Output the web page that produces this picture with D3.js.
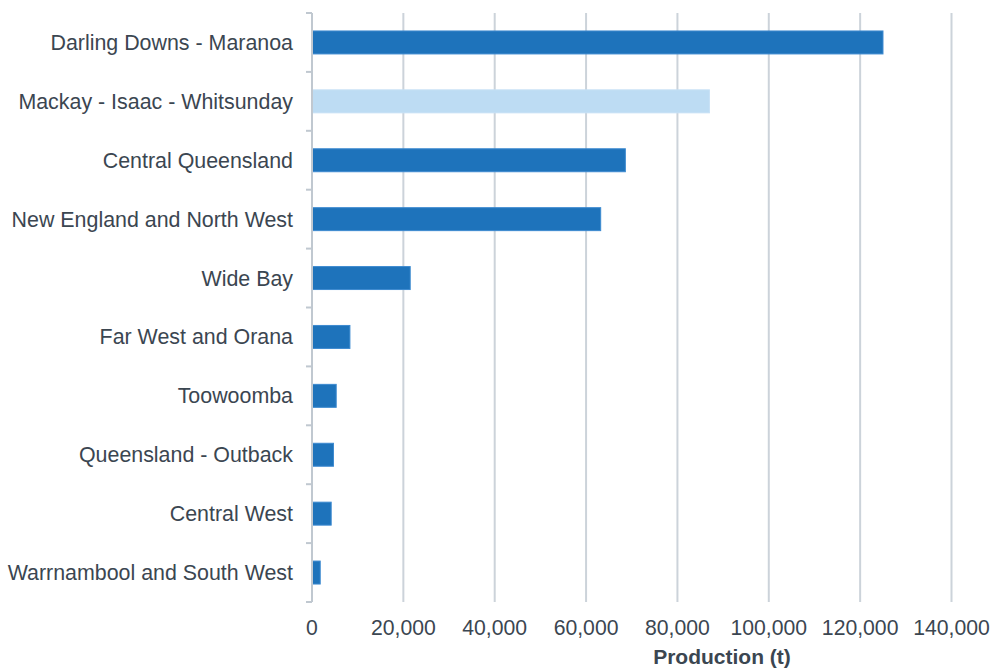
<!DOCTYPE html>
<html><head><meta charset="utf-8">
<script src="https://cdn.jsdelivr.net/npm/d3@7"></script>
<style>body{margin:0;background:#fff}svg{display:block}</style>
</head><body>
<svg id="c" width="993" height="671"></svg>
<script>
const categories = ["Darling Downs - Maranoa","Mackay - Isaac - Whitsunday","Central Queensland","New England and North West","Wide Bay","Far West and Orana","Toowoomba","Queensland - Outback","Central West","Warrnambool and South West"];
const values = [125000, 87000, 68600, 63200, 21500, 8300, 5300, 4700, 4200, 1800];
const highlight = [false, true, false, false, false, false, false, false, false, false];
const xTicks = [0,20000,40000,60000,80000,100000,120000,140000];
const xTitle = "Production (t)";

const svg = d3.select("#c");
const x = d3.scaleLinear().domain([0,140000]).range([312,951.5]);
const y = d3.scaleBand().domain(categories).range([13,602]).paddingInner(0.61).paddingOuter(0.305);
const font = "'Liberation Sans', Arial, sans-serif";
const txt = "#3b4651";

// gridlines
svg.append("g").selectAll("line").data(xTicks.slice(1)).join("line")
  .attr("x1",d=>x(d)).attr("x2",d=>x(d)).attr("y1",13).attr("y2",602)
  .attr("stroke","#ccd3da").attr("stroke-width",2);

// bars
svg.append("g").selectAll("rect").data(categories).join("rect")
  .attr("x",x(0)).attr("y",d=>y(d))
  .attr("width",(d,i)=>x(values[i])-x(0)).attr("height",y.bandwidth())
  .attr("fill",(d,i)=>highlight[i]?"#bddcf3":"#1e73bb")
  .attr("stroke",(d,i)=>highlight[i]?"#c6e0f5":"#3d8ad0").attr("stroke-width",1);

// y axis line and ticks
const ax = svg.append("g");
ax.append("line").attr("x1",312).attr("x2",312).attr("y1",13).attr("y2",602).attr("stroke","#c0c8d0").attr("stroke-width",2);
const step = y.step();
ax.selectAll("line.t").data(d3.range(categories.length+1)).join("line").attr("class","t")
  .attr("x1",306).attr("x2",312).attr("y1",i=>13+i*step).attr("y2",i=>13+i*step)
  .attr("stroke","#c0c8d0").attr("stroke-width",2);

// category labels
svg.append("g").selectAll("text").data(categories).join("text")
  .attr("x",293).attr("y",d=>y(d)+y.bandwidth()/2).attr("dy","0.35em")
  .attr("text-anchor","end").attr("font-family",font).attr("font-size",21.4).attr("fill",txt)
  .text(d=>d);

// x tick labels
svg.append("g").selectAll("text").data(xTicks).join("text")
  .attr("x",d=>x(d)).attr("y",635).attr("text-anchor","middle")
  .attr("font-family",font).attr("font-size",21.2).attr("fill",txt)
  .text(d=>d3.format(",")(d));

svg.append("text").attr("x",722).attr("y",664).attr("text-anchor","middle")
  .attr("font-family",font).attr("font-size",21).attr("font-weight","bold").attr("fill",txt)
  .text(xTitle);
</script>
</body></html>
